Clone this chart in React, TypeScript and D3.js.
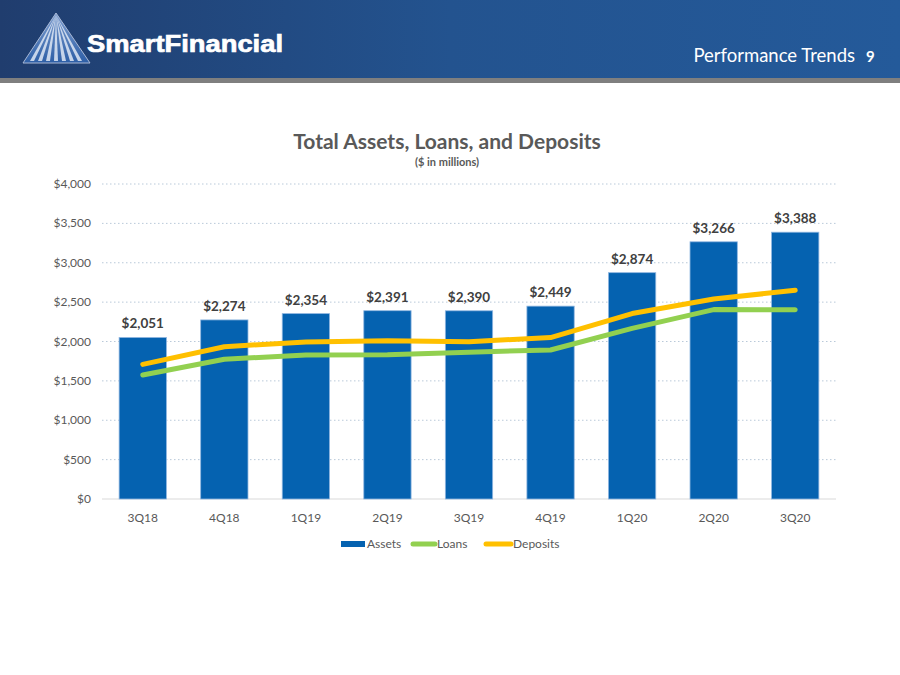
import React from "react";
import * as d3 from "d3";

const categories = ["3Q18", "4Q18", "1Q19", "2Q19", "3Q19", "4Q19", "1Q20", "2Q20", "3Q20"];
const assets = [2051, 2274, 2354, 2391, 2390, 2449, 2874, 3266, 3388];
const loans = [1575, 1774, 1829, 1833, 1865, 1892, 2167, 2405, 2402];
const deposits = [1710, 1934, 1995, 2008, 1998, 2050, 2355, 2540, 2650];
const yTicks = [0, 500, 1000, 1500, 2000, 2500, 3000, 3500, 4000];

const W = 900;
const H = 675;
const left = 102;
const right = 836;
const top = 184;
const bottom = 499;

export default function App() {
  const x = d3.scaleBand<string>().domain(categories).range([left, right]).paddingInner(0.42).paddingOuter(0.21);
  const y = d3.scaleLinear().domain([0, 4000]).range([bottom, top]);
  const cx = (c: string) => (x(c) as number) + x.bandwidth() / 2;
  const lineGen = d3
    .line<number>()
    .x((_, i) => cx(categories[i]))
    .y((d) => y(d));
  const fmt = (v: number) => "$" + d3.format(",")(v);
  const font = "Lato, 'Open Sans', sans-serif";

  return (
    <svg width={W} height={H} style={{ position: "absolute", left: 0, top: 0, background: "#fff" }}>
      <defs>
        <linearGradient id="hdr" x1="0" x2="1" y1="0" y2="0">
          <stop offset="0" stopColor="#203d6e" />
          <stop offset="0.5" stopColor="#23538f" />
          <stop offset="1" stopColor="#245a9a" />
        </linearGradient>
        <linearGradient id="tri" x1="0" x2="0" y1="0" y2="1">
          <stop offset="0" stopColor="#7f9fd0" />
          <stop offset="1" stopColor="#2d5ea6" />
        </linearGradient>
      </defs>
      <rect x={0} y={0} width={W} height={78} fill="url(#hdr)" />
      <rect x={0} y={78} width={W} height={5} fill="#7f7f7f" />
      {/* logo */}
      <g>
        <path d="M56,13 L90,63 L23,63 Z" fill="url(#tri)" stroke="#a9b9d6" strokeWidth={1} />
        {[-24, -16, -8, 0, 8, 16, 24].map((dx, i) => (
          <path key={i} d={`M56,15 L${56 + dx - 2},61 L${56 + dx + 2},61 Z`} fill="#dfe7f5" opacity={0.85} />
        ))}
      </g>
      <text
        x={87}
        y={52}
        fill="#fff"
        stroke="#fff"
        strokeWidth={0.7}
        fontFamily="'Liberation Sans', Arial, sans-serif"
        fontWeight="bold"
        fontSize={24}
        textLength={196}
        lengthAdjust="spacingAndGlyphs"
      >
        SmartFinancial
      </text>
      <text x={855} y={62} textAnchor="end" fill="#fff" fontFamily={font} fontSize={18.5}>
        Performance Trends
      </text>
      <text x={866} y={62} fill="#fff" fontFamily={font} fontWeight="bold" fontSize={15}>
        9
      </text>

      {/* title */}
      <text x={447} y={149} textAnchor="middle" fill="#595959" fontFamily={font} fontWeight="bold" fontSize={21}>
        Total Assets, Loans, and Deposits
      </text>
      <text x={447} y={166} textAnchor="middle" fill="#595959" fontFamily={font} fontWeight="bold" fontSize={11}>
        ($ in millions)
      </text>

      {/* grid */}
      {yTicks.map((t) => (
        <g key={t}>
          {t > 0 && (
            <line x1={left} x2={right} y1={y(t)} y2={y(t)} stroke="#b9c9d9" strokeWidth={1} strokeDasharray="1.5,2.5" />
          )}
          <text x={91} y={y(t) + 4} textAnchor="end" fill="#595959" fontFamily={font} fontSize={12}>
            {fmt(t)}
          </text>
        </g>
      ))}
      <line x1={left} x2={right} y1={bottom} y2={bottom} stroke="#d9d9d9" strokeWidth={1} />

      {/* bars */}
      {categories.map((c, i) => (
        <g key={c}>
          <rect
            x={x(c)}
            y={y(assets[i])}
            width={x.bandwidth()}
            height={bottom - y(assets[i])}
            fill="#0562b0"
            stroke="#8fb6e0"
            strokeWidth={0.8}
          />
          <text x={cx(c)} y={y(assets[i]) - 9} textAnchor="middle" fill="#404040" fontFamily={font} fontWeight="bold" fontSize={13.5}>
            {fmt(assets[i])}
          </text>
          <text x={cx(c)} y={522} textAnchor="middle" fill="#595959" fontFamily={font} fontSize={12}>
            {c}
          </text>
        </g>
      ))}

      {/* lines */}
      <path d={lineGen(loans) || ""} fill="none" stroke="#92d050" strokeWidth={5} strokeLinecap="round" strokeLinejoin="round" />
      <path d={lineGen(deposits) || ""} fill="none" stroke="#ffc000" strokeWidth={5} strokeLinecap="round" strokeLinejoin="round" />

      {/* legend */}
      <rect x={341} y={541} width={24} height={6} fill="#0562b0" />
      <text x={367} y={548} fill="#595959" fontFamily={font} fontSize={12}>Assets</text>
      <line x1={413} x2={435} y1={544} y2={544} stroke="#92d050" strokeWidth={5} strokeLinecap="round" />
      <text x={437} y={548} fill="#595959" fontFamily={font} fontSize={12}>Loans</text>
      <line x1={486} x2={511} y1={544} y2={544} stroke="#ffc000" strokeWidth={5} strokeLinecap="round" />
      <text x={513} y={548} fill="#595959" fontFamily={font} fontSize={12}>Deposits</text>
    </svg>
  );
}
